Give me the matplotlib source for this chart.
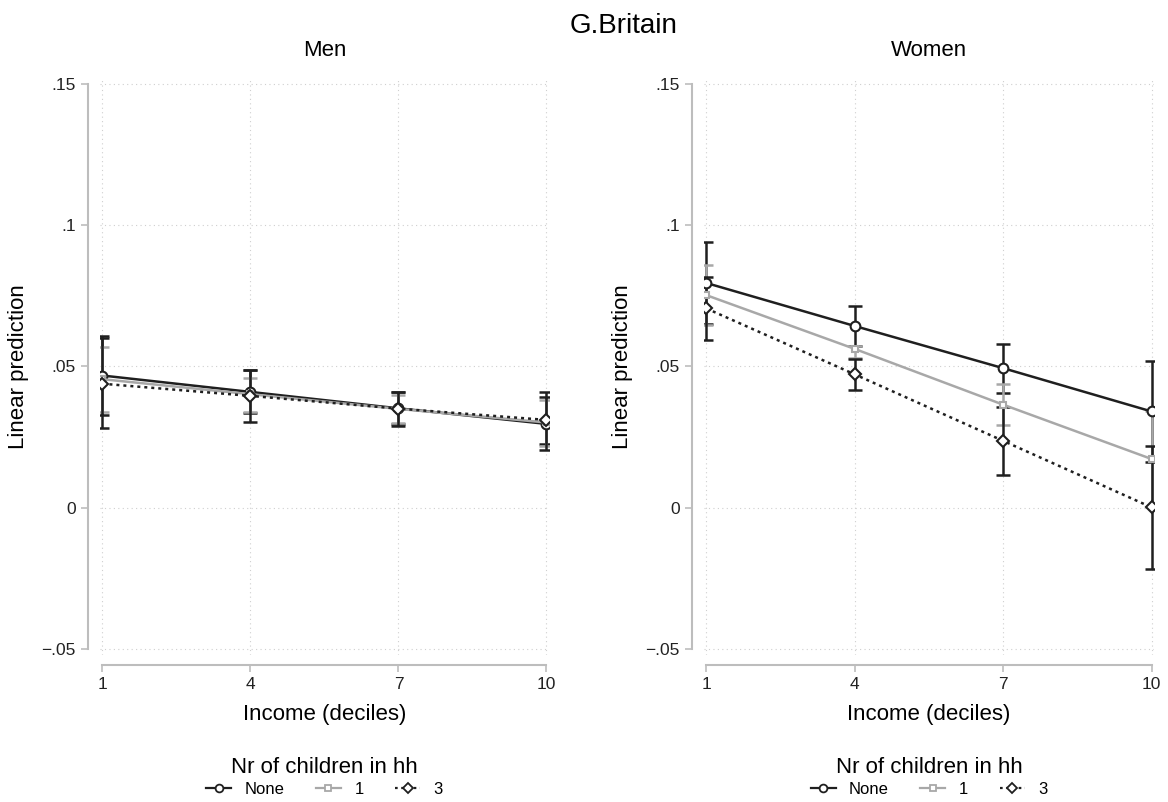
import matplotlib
matplotlib.use("Agg")
import matplotlib.pyplot as plt
from matplotlib.lines import Line2D

plt.rcParams['font.family'] = ['Liberation Sans', 'DejaVu Sans']

deciles = [1, 4, 7, 10]
groups = ["None", "1", "3"]
panels = ["Men", "Women"]

# Men
men_none = [0.0468, 0.0410, 0.0352, 0.0297]
men_none_lo = [0.0330, 0.0337, 0.0295, 0.0227]
men_none_hi = [0.0606, 0.0486, 0.0410, 0.0392]
men_one = [0.0455, 0.0402, 0.0350, 0.0302]
men_one_lo = [0.0340, 0.0340, 0.0300, 0.0220]
men_one_hi = [0.0570, 0.0460, 0.0400, 0.0380]
men_three = [0.0439, 0.0396, 0.0351, 0.0311]
men_three_lo = [0.0281, 0.0302, 0.0291, 0.0203]
men_three_hi = [0.0600, 0.0486, 0.0410, 0.0408]

# Women
women_none = [0.0795, 0.0643, 0.0494, 0.0341]
women_none_lo = [0.0649, 0.0573, 0.0407, 0.0164]
women_none_hi = [0.0941, 0.0714, 0.0581, 0.0518]
women_one = [0.0752, 0.0562, 0.0365, 0.0173]
women_one_lo = [0.0647, 0.0530, 0.0292, 0.0003]
women_one_hi = [0.0857, 0.0574, 0.0439, 0.0343]
women_three = [0.0705, 0.0472, 0.0237, 0.0002]
women_three_lo = [0.0594, 0.0417, 0.0116, -0.0215]
women_three_hi = [0.0816, 0.0527, 0.0358, 0.0220]

yticks = [-0.05, 0, 0.05, 0.1, 0.15]
ytick_labels = ["\u2212.05", "0", ".05", ".1", ".15"]

data = {
    "Men": [(men_none, men_none_lo, men_none_hi),
            (men_one, men_one_lo, men_one_hi),
            (men_three, men_three_lo, men_three_hi)],
    "Women": [(women_none, women_none_lo, women_none_hi),
              (women_one, women_one_lo, women_one_hi),
              (women_three, women_three_lo, women_three_hi)],
}

dark = "#1f1f1f"
gray = "#a8a8a8"
styles = [
    dict(color=dark, ls="-", marker="o", ms=7),
    dict(color=gray, ls="-", marker="s", ms=5),
    dict(color=dark, ls=(0, (1.2, 1.6)), marker="D", ms=6.5),
]
axis_col = "#bdbdbd"

fig = plt.figure(figsize=(11.68, 8.02), dpi=100)
fig.text(0.534, 0.967, "G.Britain", ha="center", va="center", fontsize=20)

positions = [[0.0856, 0.1833, 0.3844, 0.7195], [0.6027, 0.1833, 0.3853, 0.7195]]

for panel, pos in zip(panels, positions):
    ax = fig.add_axes(pos)
    handles = []
    for g, st, (m, lo, hi) in zip(groups, styles, data[panel]):
        yerr = [[mi - l for mi, l in zip(m, lo)], [h - mi for mi, h in zip(m, hi)]]
        ax.errorbar(deciles, m, yerr=yerr, fmt="none", ecolor=st["color"],
                    elinewidth=1.8, capsize=5, capthick=1.8, zorder=2)
        ax.plot(deciles, m, color=st["color"], ls=st["ls"], lw=1.8,
                marker=st["marker"], markersize=st["ms"],
                mfc="white", mec=st["color"], mew=1.5, zorder=3)
        handles.append(Line2D([], [], color=st["color"], ls=st["ls"], lw=1.6,
                              marker=st["marker"], markersize=st["ms"] * 0.8, mfc="white",
                              mec=st["color"], mew=1.3))
    ax.set_xlim(0.95, 10.05)
    ax.set_ylim(-0.052, 0.152)
    ax.set_xticks(deciles)
    ax.set_xticklabels([str(d) for d in deciles])
    ax.set_yticks(yticks)
    ax.set_yticklabels(ytick_labels)
    ax.grid(True, color="#cfcfcf", ls=(0, (1, 3)), lw=0.8)
    ax.set_axisbelow(True)
    for s in ["top", "right"]:
        ax.spines[s].set_visible(False)
    ax.spines["left"].set_position(("outward", 8.6))
    ax.spines["bottom"].set_position(("outward", 7.2))
    ax.spines["left"].set_bounds(-0.05, 0.15)
    ax.spines["bottom"].set_bounds(1, 10)
    for s in ["left", "bottom"]:
        ax.spines[s].set_color(axis_col)
        ax.spines[s].set_linewidth(1.5)
    ax.tick_params(axis="both", colors=axis_col, length=5, width=1.2,
                   labelcolor="#222222", labelsize=12.5)
    ax.tick_params(axis="x", pad=4)
    ax.tick_params(axis="y", pad=4)
    ax.set_xlabel("Income (deciles)", fontsize=16, labelpad=8)
    ax.set_ylabel("Linear prediction", fontsize=16, labelpad=9)
    ax.set_title(panel, fontsize=16, pad=16)
    ax.legend(handles, groups, loc="upper center", bbox_to_anchor=(0.5, -0.163),
              ncol=3, frameon=False, fontsize=12, title="Nr of children in hh",
              title_fontsize=16, handlelength=1.5, columnspacing=1.9,
              handletextpad=0.8, borderpad=0, labelspacing=0.2)

fig.savefig("out.png", dpi=100)
